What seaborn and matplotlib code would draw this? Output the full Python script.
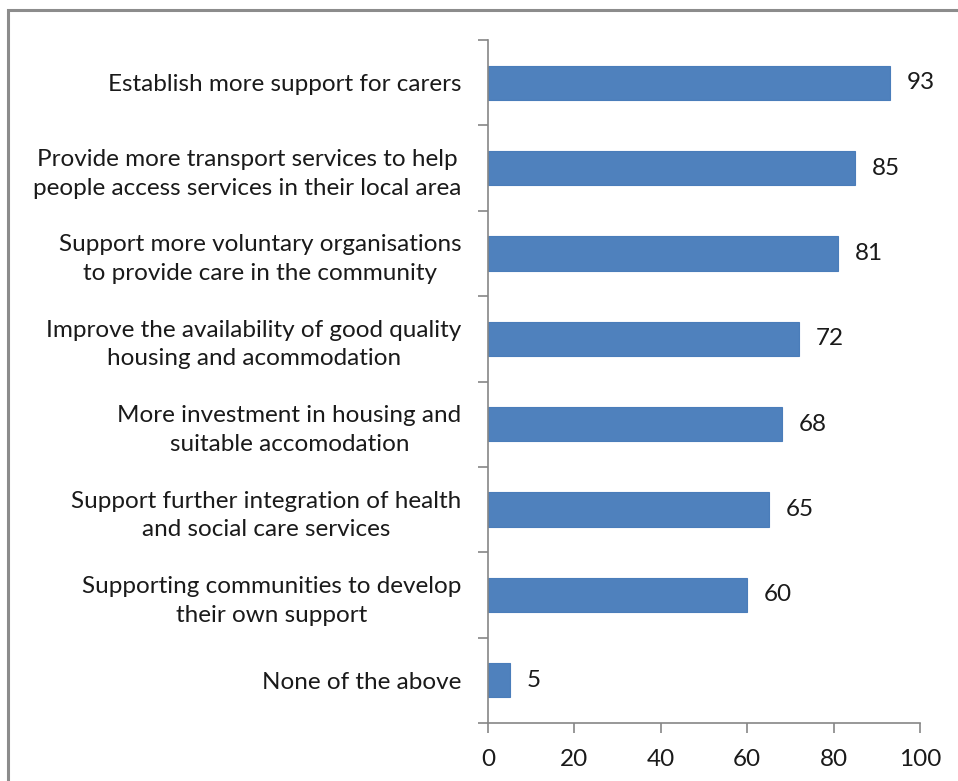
import matplotlib
matplotlib.use("Agg")
import matplotlib.pyplot as plt
from matplotlib.patches import Rectangle
from matplotlib.ticker import FixedLocator
import seaborn as sns
import pandas as pd

categories = [
    "Establish more support for carers",
    "Provide more transport services to help\npeople access services in their local area",
    "Support more voluntary organisations\nto provide care in the community",
    "Improve the availability of good quality\nhousing and acommodation",
    "More investment in housing and\nsuitable accomodation",
    "Support further integration of health\nand social care services",
    "Supporting communities to develop\ntheir own support",
    "None of the above",
]
values = [93, 85, 81, 72, 68, 65, 60, 5]
x_ticks = [0, 20, 40, 60, 80, 100]

sns.set_theme(style="white")
plt.rcParams["font.family"] = ["Lato", "DejaVu Sans"]

df = pd.DataFrame({"option": categories, "count": values})

fig = plt.figure(figsize=(9.58, 7.81), dpi=100)
ax = fig.add_axes([488 / 958, 1 - 723 / 781, (920 - 488) / 958, (723 - 40) / 781])

bar_color = "#4F81BD"
sns.barplot(data=df, y="option", x="count", orient="h", color=bar_color,
            width=0.4, saturation=1, ax=ax, edgecolor="#4A7DBA", linewidth=0.8)

ax.set_xlim(0, 100)
ax.set_ylim(len(categories) - 0.5, -0.5)
ax.set_xlabel("")
ax.set_ylabel("")

text_color = "#1a1a1a"
fs = 17.5
grey = "#868686"
for side in ("top", "right"):
    ax.spines[side].set_visible(False)
for side in ("left", "bottom"):
    ax.spines[side].set_color(grey)
    ax.spines[side].set_linewidth(1.2)

ax.set_xticks(x_ticks)
ax.set_xticklabels([str(t) for t in x_ticks], fontsize=fs, color=text_color)
ax.tick_params(axis="x", direction="out", length=7, width=1.2, color=grey, pad=12,
               bottom=True)

ax.set_yticks(range(len(categories)))
ax.set_yticklabels(categories, fontsize=fs, color=text_color,
                   multialignment="center", linespacing=1.45)
ax.tick_params(axis="y", which="major", length=0, pad=19)
ax.yaxis.set_minor_locator(FixedLocator([i - 0.5 for i in range(len(categories) + 1)]))
ax.tick_params(axis="y", which="minor", direction="out", length=7, width=1.2,
               color=grey, left=True)

for container in ax.containers:
    ax.bar_label(container, labels=[str(v) for v in values], padding=12,
                 fontsize=fs, color=text_color)

# outer frame of the chart area
fig.patches.append(Rectangle((8 / 958, -0.05), 1.2, 1 - 10 / 781 + 0.05,
                             transform=fig.transFigure, fill=False,
                             edgecolor="#8c8c8c", linewidth=2.2, zorder=0))

fig.savefig("out.png", dpi=100, facecolor="white")
